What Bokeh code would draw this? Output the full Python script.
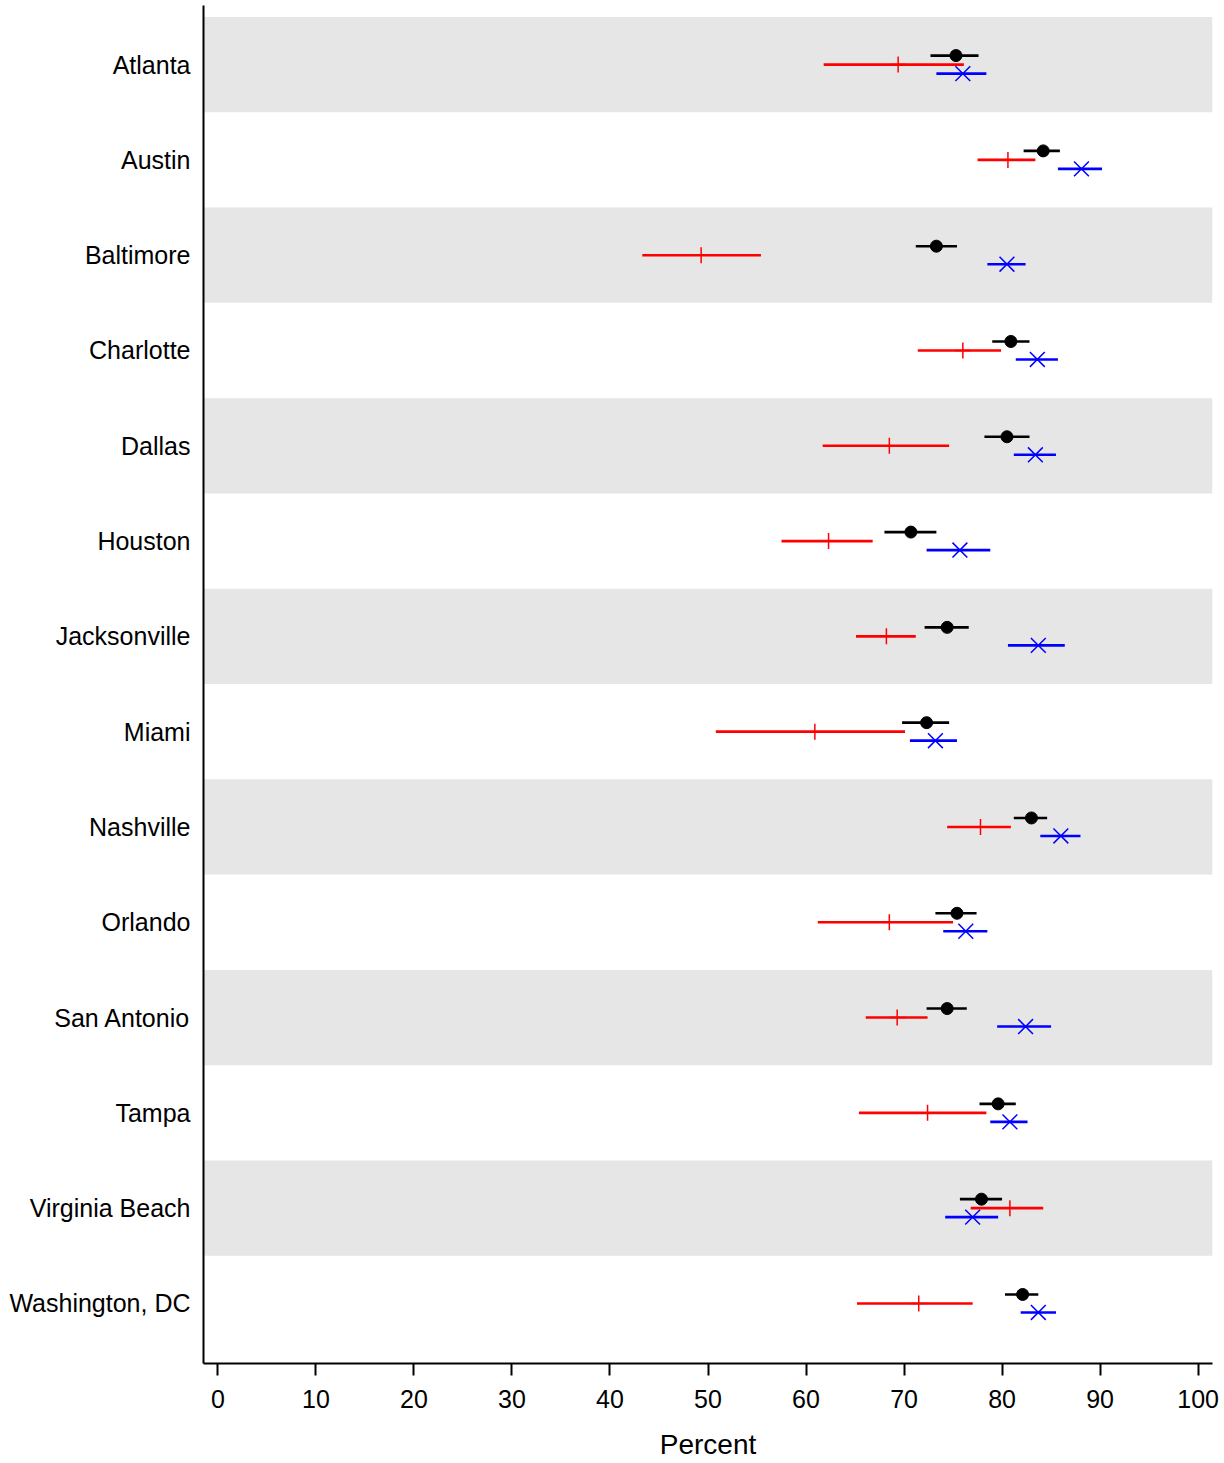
from bokeh.plotting import figure
from bokeh.models import Range1d, FixedTicker, ColumnDataSource
from bokeh.embed import file_html
from bokeh.resources import INLINE

cities = ["Atlanta", "Austin", "Baltimore", "Charlotte", "Dallas", "Houston",
          "Jacksonville", "Miami", "Nashville", "Orlando", "San Antonio",
          "Tampa", "Virginia Beach", "Washington, DC"]

black_est = [75.3, 84.2, 73.3, 80.9, 80.5, 70.7, 74.4, 72.3, 83.0, 75.4, 74.4, 79.6, 77.9, 82.1]
black_lo = [72.7, 82.2, 71.2, 79.0, 78.2, 68.0, 72.1, 69.8, 81.2, 73.2, 72.3, 77.7, 75.7, 80.3]
black_hi = [77.6, 85.9, 75.4, 82.8, 82.8, 73.3, 76.6, 74.6, 84.6, 77.4, 76.4, 81.4, 80.0, 83.7]

red_est = [69.4, 80.6, 49.3, 76.0, 68.5, 62.3, 68.2, 60.9, 77.8, 68.5, 69.3, 72.4, 80.8, 71.5]
red_lo = [61.8, 77.5, 43.3, 71.4, 61.7, 57.5, 65.1, 50.8, 74.4, 61.2, 66.1, 65.4, 76.8, 65.2]
red_hi = [76.1, 83.4, 55.4, 79.9, 74.6, 66.8, 71.2, 70.1, 80.9, 75.0, 72.4, 78.4, 84.2, 77.0]

blue_est = [76.0, 88.1, 80.5, 83.6, 83.4, 75.7, 83.7, 73.2, 86.0, 76.3, 82.4, 80.8, 77.0, 83.7]
blue_lo = [73.3, 85.7, 78.5, 81.4, 81.2, 72.3, 80.6, 70.6, 83.9, 74.0, 79.5, 78.8, 74.2, 81.9]
blue_hi = [78.4, 90.2, 82.4, 85.7, 85.5, 78.8, 86.4, 75.4, 88.0, 78.5, 85.0, 82.6, 79.6, 85.5]

x_ticks = [0, 10, 20, 30, 40, 50, 60, 70, 80, 90, 100]
x_label = "Percent"

FONT = "Liberation Sans"
XMIN, XMAX = -1.47, 101.47
n = len(cities)
ypos = [n - 1 - i for i in range(n)]

p = figure(width=1220, height=1462, output_backend="svg", toolbar_location=None,
           x_range=Range1d(XMIN, XMAX), y_range=Range1d(-0.5 - 0.13, n - 0.5 + 0.12),
           min_border_left=203, min_border_right=8, min_border_top=5, min_border_bottom=97)
p.outline_line_color = None
p.xgrid.visible = False
p.ygrid.visible = False
p.background_fill_color = "white"
p.border_fill_color = "white"

# alternating bands
band_y = [ypos[i] for i in range(n) if i % 2 == 0]
p.hbar(y=band_y, height=1.0, left=XMIN, right=XMAX, fill_color="#e6e6e6", line_color=None)

off = 9.0 / 95.3
series = [
    (black_est, black_lo, black_hi, off, "black"),
    (red_est, red_lo, red_hi, 0.0, "#ff0000"),
    (blue_est, blue_lo, blue_hi, -off, "#0000ff"),
]
for est, lo, hi, o, col in series:
    ys = [y + o for y in ypos]
    src = ColumnDataSource(dict(est=est, lo=lo, hi=hi, y=ys))
    p.segment(x0="lo", x1="hi", y0="y", y1="y", source=src, line_color=col, line_width=2.6)

bsrc = ColumnDataSource(dict(x=black_est, y=[y + off for y in ypos]))
p.scatter(x="x", y="y", source=bsrc, marker="circle", size=12, fill_color="black", line_color="black")
rsrc = ColumnDataSource(dict(x=red_est, y=ypos))
p.scatter(x="x", y="y", source=rsrc, marker="cross", size=16, line_color="#ff0000", line_width=1.5)
usrc = ColumnDataSource(dict(x=blue_est, y=[y - off for y in ypos]))
p.scatter(x="x", y="y", source=usrc, marker="x", size=21, line_color="#0000ff", line_width=1.5)

# x axis
xa = p.xaxis[0]
xa.ticker = FixedTicker(ticks=x_ticks)
xa.minor_tick_line_color = None
xa.major_tick_in = 0
xa.major_tick_out = 12
xa.major_tick_line_width = 2
xa.axis_line_width = 2
xa.axis_line_color = "black"
xa.major_tick_line_color = "black"
xa.major_label_text_font = FONT
xa.major_label_text_font_size = "25px"
xa.major_label_text_color = "black"
xa.major_label_standoff = 14
xa.axis_label = x_label
xa.axis_label_text_font = FONT
xa.axis_label_text_font_size = "28px"
xa.axis_label_text_font_style = "normal"
xa.axis_label_text_color = "black"
xa.axis_label_standoff = 18

# y axis
ya = p.yaxis[0]
ya.ticker = FixedTicker(ticks=ypos)
ya.major_label_overrides = {ypos[i]: cities[i] for i in range(n)}
ya.minor_tick_line_color = None
ya.major_tick_line_color = None
ya.major_tick_in = 0
ya.major_tick_out = 0
ya.axis_line_width = 2
ya.axis_line_color = "black"
ya.major_label_text_font = FONT
ya.major_label_text_font_size = "25px"
ya.major_label_text_color = "black"
ya.major_label_standoff = 13

open("out.html", "w").write(file_html(p, INLINE))
